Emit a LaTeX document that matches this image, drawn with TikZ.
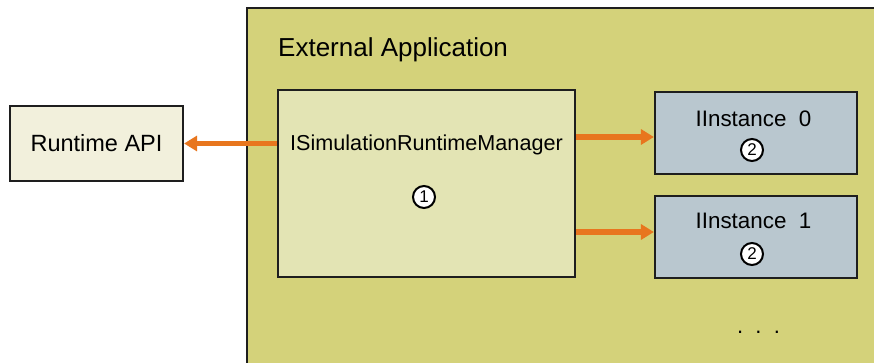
\documentclass[tikz,border=0pt]{standalone}
\usepackage{fontspec}
\setmainfont{Liberation Sans}
\usetikzlibrary{arrows.meta}
\definecolor{appfill}{HTML}{D4D27A}
\definecolor{mgrfill}{HTML}{E3E4B4}
\definecolor{apifill}{HTML}{F2F0DC}
\definecolor{instfill}{HTML}{B9C7CF}
\definecolor{linkorange}{HTML}{E8761E}
\definecolor{edge}{HTML}{1E1E1E}
\tikzset{
  box/.style={draw=edge, line width=2.2pt, rectangle, inner sep=0pt},
  badge/.style={draw=black, line width=2pt, circle, fill=white, inner sep=0pt,
    minimum size=22pt, font=\fontsize{17}{17}\selectfont},
  link/.style={draw=linkorange, line width=5.5pt,
    -{Triangle[length=13pt,width=15pt]}},
  label/.style={inner sep=0pt, text=black}
}
\begin{document}
\begin{tikzpicture}[x=1pt, y=-1pt]
\useasboundingbox (0,0) rectangle (874,363);
\fill[white] (0,0) rectangle (874,363);
% host application frame, running off the right and bottom edges
\begin{scope}
  \clip (0,0) rectangle (874,363);
  \draw[box, fill=appfill] (247,8) rectangle (884,372);
\end{scope}
\node[label, anchor=base west, font=\fontsize{26}{30}\selectfont] (title) at (278,57) {External Application};

% runtime API
\node[box, fill=apifill, minimum width=173pt, minimum height=75pt,
  font=\fontsize{23.5}{26}\selectfont] (api) at (96.5,143.5) {Runtime API};

% manager
\node[box, fill=mgrfill, minimum width=297pt, minimum height=187pt] (mgr) at (426.5,183.5) {};
\node[label, anchor=base, font=\fontsize{21.6}{24}\selectfont] (mgrtext) at (426.5,151) {ISimulationRuntimeManager};
\node[badge] (b1) at (424,197) {1};

% instances
\node[box, fill=instfill, minimum width=202pt, minimum height=82pt] (inst0) at (756,133) {};
\node[label, anchor=base, font=\fontsize{22.4}{24}\selectfont] (inst0text) at (753.5,127) {IInstance\ \ 0};
\node[badge] (b2a) at (752,150) {2};

\node[box, fill=instfill, minimum width=202pt, minimum height=82pt] (inst1) at (756,237) {};
\node[label, anchor=base, font=\fontsize{22.4}{24}\selectfont] (inst1text) at (753.5,228) {IInstance\ \ 1};
\node[badge] (b2b) at (752,254) {2};

\node[label, anchor=base, font=\fontsize{22}{24}\selectfont] (more) at (758.5,333) {.\ \ .\ \ .};

% connectors
\draw[link] (mgr.west |- api.east) -- (api.east);
\draw[link] ([yshift=-4pt]inst0.west -| mgr.east) -- ([yshift=-4pt]inst0.west);
\draw[link] ([yshift=5pt]inst1.west -| mgr.east) -- ([yshift=5pt]inst1.west);
\end{tikzpicture}
\end{document}
